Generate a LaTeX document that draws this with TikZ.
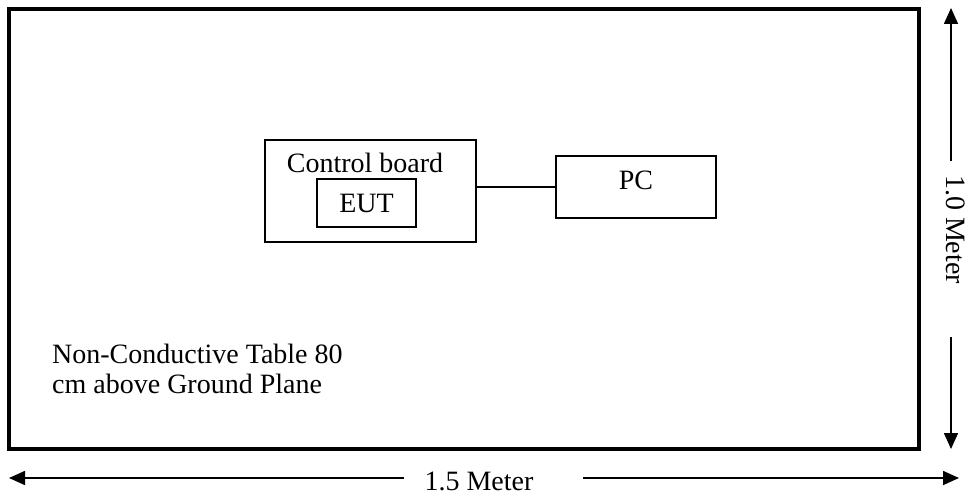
\documentclass[tikz,border=0pt]{standalone}
\usepackage{fontspec}
\setmainfont{Liberation Serif}
\usetikzlibrary{arrows.meta, positioning}

\begin{document}
\begin{tikzpicture}[x=1pt,y=-1pt,
    font=\fontsize{28}{30}\selectfont,
    box/.style={draw, line width=2pt, inner sep=0pt},
    dimline/.style={line width=1.6pt, -{Triangle[length=16pt,width=14pt]}}]
    \useasboundingbox (0,0) rectangle (971,497);
    % Table top
    \node[draw, line width=4pt, minimum width=910pt, minimum height=440pt] (table) at (464,229) {};
    \node[anchor=base west, align=left, inner sep=0pt] (tablelabel) at (52,393)
        {Non-Conductive Table 80\\cm above Ground Plane};

    % Control board with the EUT
    \node[box, minimum width=211pt, minimum height=102pt] (board) at (370.5,191) {};
    \node[anchor=base, inner sep=0pt] (boardlabel) at (365,172) {Control board};
    \node[box, minimum width=99pt, minimum height=48pt] (eut) at (366.5,203) {EUT};

    % PC
    \node[box, minimum width=160pt, minimum height=62pt, text depth=14pt] (pc) at (636,187) {PC};
    \draw[line width=1.5pt] (board.east |- pc.west) -- (pc.west);

    % Width: 1.5 Meter
    \node[inner sep=0pt] (width) at (479,481) {1.5 Meter};
    \coordinate (wleft) at (9,478);
    \coordinate (wright) at (959,478);
    \draw[dimline] (width.west |- wleft) ++(-20,0) -- (wleft);
    \draw[dimline] (width.east |- wright) ++(49,0) -- (wright);

    % Depth: 1.0 Meter
    \node[inner sep=0pt, rotate=-90] (depth) at (955.5,229.5) {1.0 Meter};
    \coordinate (dtop) at (951,8);
    \coordinate (dbot) at (951,449);
    \draw[dimline] (depth.west -| dtop) ++(0,-14) -- (dtop);
    \draw[dimline] (depth.east -| dbot) ++(0,53) -- (dbot);
\end{tikzpicture}
\end{document}
